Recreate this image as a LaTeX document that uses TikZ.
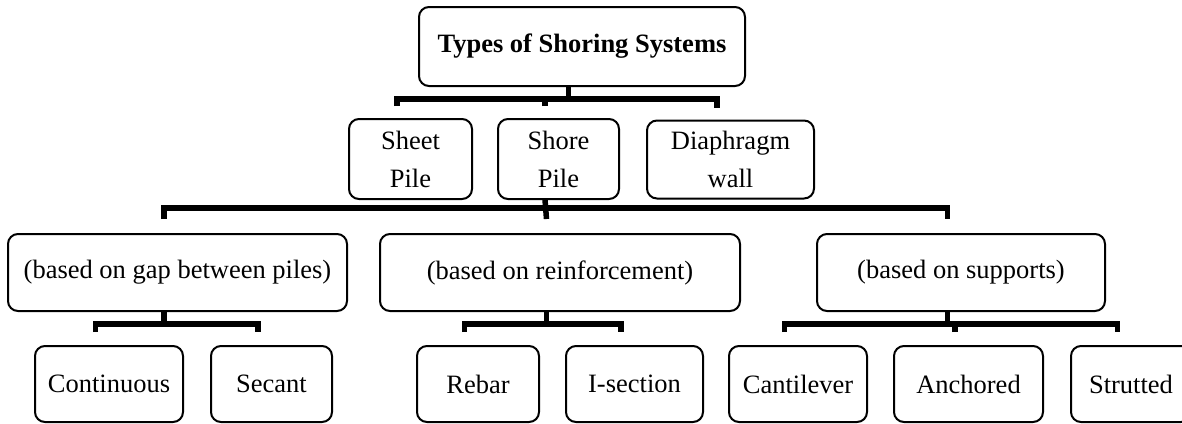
\documentclass[tikz,border=0pt]{standalone}
\usepackage{fontspec}
\setmainfont{Liberation Serif}
\usepackage{tikz}

\tikzset{
  box/.style={draw, line width=2pt, rounded corners=10pt, inner sep=0pt,
    align=center, font=\fontsize{26.5}{38}\selectfont},
  link/.style={draw, line width=5.5pt},
  dx/.style={xshift=-13.5pt}
}

\begin{document}
\begin{tikzpicture}[x=1pt, y=-1pt]
\useasboundingbox (0,0) rectangle (1182,423);
\clip (0,0) rectangle (1182,423);
% top
\node[box, minimum width=326, minimum height=79] (title) at (582,46.5) {\textbf{Types of Shoring Systems}};
% second row
\node[box, minimum width=123, minimum height=80] (sheet) at (410.5,159) {Sheet\\Pile};
\node[box, minimum width=121, minimum height=80] (shore) at (558.5,159) {Shore\\Pile};
\node[box, minimum width=167, minimum height=78] (diaph) at (730.5,159.5) {Diaphragm\\wall};
% third row
\node[box, minimum width=339, minimum height=77] (gap) at (177.5,272.5) {(based on gap between piles)};
\node[box, minimum width=360, minimum height=77] (reinf) at (560,272.5) {(based on reinforcement)};
\node[box, minimum width=288, minimum height=77] (supp) at (961,272.5) {(based on supports)};
% bottom row
\node[box, minimum width=148, minimum height=76] (cont) at (109,384) {Continuous};
\node[box, minimum width=121, minimum height=76] (secant) at (271.5,384) {Secant};
\node[box, minimum width=122, minimum height=76] (rebar) at (478,384) {Rebar};
\node[box, minimum width=137, minimum height=76] (isec) at (634.5,384) {I-section};
\node[box, minimum width=138, minimum height=76] (cantil) at (798,384) {Cantilever};
\node[box, minimum width=149, minimum height=76] (anch) at (968.5,384) {Anchored};
\node[box, minimum width=120, minimum height=76] (strut) at (1131,384) {Strutted};

% brackets
\draw[link] ([dx]title.south) -- ++(0,12) coordinate (t1);
\draw[link] ([dx,yshift=12pt]sheet.north) |- (t1) -| ([dx,yshift=12pt]diaph.north);
\draw[link] ([dx,yshift=12pt]shore.north) |- (t1);

\draw[link] ([dx]shore.south) -- ([dx,yshift=14pt]reinf.north);
\draw[link] ([dx,yshift=14pt]gap.north) |- ([dx,yshift=25pt]reinf.north) -| ([dx,yshift=14pt]supp.north);

\draw[link] ([dx]gap.south) -- ++(0,12) coordinate (g1);
\draw[link] ([dx,yshift=13pt]cont.north) |- (g1) -| ([dx,yshift=13pt]secant.north);

\draw[link] ([dx]reinf.south) -- ++(0,12) coordinate (r1);
\draw[link] ([dx,yshift=13pt]rebar.north) |- (r1) -| ([dx,yshift=13pt]isec.north);

\draw[link] ([dx]supp.south) -- ++(0,12) coordinate (s1);
\draw[link] ([dx,yshift=13pt]cantil.north) |- (s1) -| ([dx,yshift=13pt]strut.north);
\draw[link] ([dx,yshift=13pt]anch.north) |- (s1);
\end{tikzpicture}
\end{document}
